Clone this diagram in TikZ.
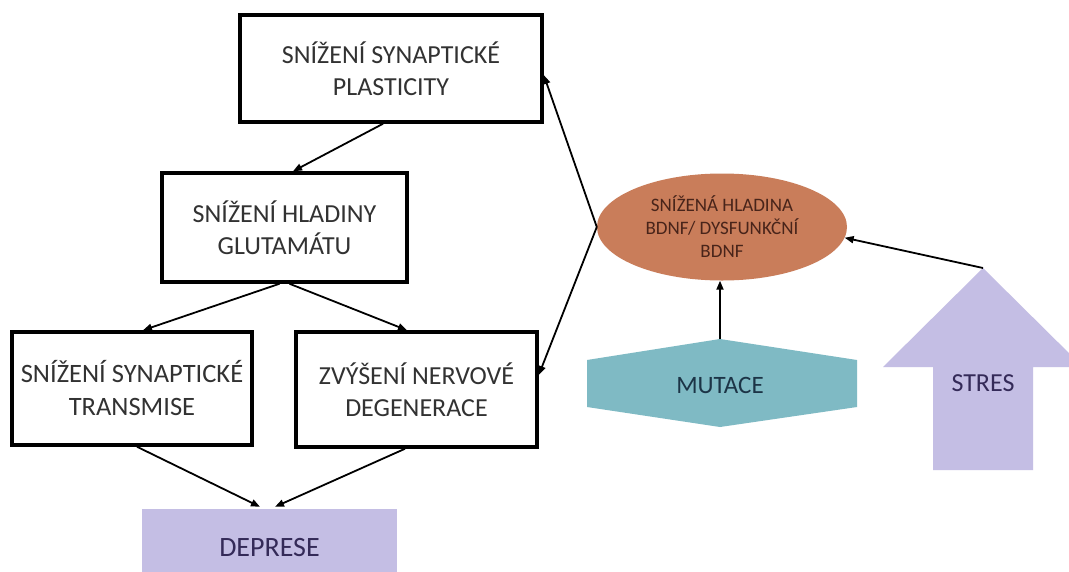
\documentclass[tikz,border=0pt]{standalone}
\usepackage{fontspec}
\setmainfont{Carlito}
\usetikzlibrary{arrows.meta,shapes.geometric,calc}
\definecolor{boxtext}{RGB}{50,50,50}
\definecolor{lav}{RGB}{196,190,228}
\definecolor{lavtext}{RGB}{52,42,88}
\definecolor{orangebrown}{RGB}{201,125,90}
\definecolor{ellitext}{RGB}{72,36,26}
\definecolor{teal}{RGB}{127,186,196}
\definecolor{tealtext}{RGB}{28,52,70}
\tikzset{
  boxnode/.style={draw=black,line width=3.5pt,fill=white,inner sep=0pt,align=center,
    text=boxtext,font=\fontsize{26}{32}\selectfont},
  conn/.style={line width=1.8pt,-{Triangle[length=9pt,width=7pt]}},
}
\begin{document}
\begin{tikzpicture}[x=1pt,y=-1pt]
\useasboundingbox (0,0) rectangle (1069,571);
\clip (0,0) rectangle (1069,571);
\fill[white] (0,0) rectangle (1069,571);
% boxes
\node[boxnode,minimum width=302pt,minimum height=107pt] (b1) at (391,68.5)
  {SNÍŽENÍ SYNAPTICKÉ\\PLASTICITY};
\node[boxnode,minimum width=245pt,minimum height=109pt] (b2) at (284.5,227.5)
  {SNÍŽENÍ HLADINY\\GLUTAMÁTU};
\node[boxnode,minimum width=240pt,minimum height=113pt,font=\fontsize{26.5}{33}\selectfont] (b3) at (132,388.5)
  {SNÍŽENÍ SYNAPTICKÉ\\TRANSMISE};
\node[boxnode,minimum width=241pt,minimum height=115pt] (b4) at (416.5,389.5)
  {ZVÝŠENÍ NERVOVÉ\\DEGENERACE};
\node[fill=lav,inner sep=0pt,minimum width=255pt,minimum height=78pt,text=lavtext,
  font=\fontsize{28}{33}\selectfont] (dep) at (269.5,548) {DEPRESE};
% ellipse
\node[ellipse,fill=orangebrown,inner sep=0pt,minimum width=250pt,minimum height=107pt,
  align=center,text=ellitext,font=\fontsize{19}{23}\selectfont] (e) at (722,227)
  {SNÍŽENÁ HLADINA\\BDNF/ DYSFUNKČNÍ\\BDNF};
% mutace hexagon
\fill[teal] (587,360) -- (720,339) -- (857,360) -- (857,407) -- (720,427) -- (587,407) -- cycle;
\coordinate (mtop) at (720,339);
\node[text=tealtext,font=\fontsize{25}{30}\selectfont] (m) at (720,385) {MUTACE};
% stres arrow
\fill[lav] (983,268) -- (1083,367) -- (1033,367) -- (1033,470) -- (933,470) -- (933,367) -- (883,367) -- cycle;
\coordinate (stip) at (983,268);
\node[text=lavtext,font=\fontsize{26}{31}\selectfont] (s) at (983,383) {STRES};
% connectors
\draw[conn] ([xshift=-8pt]b1.south) -- ([xshift=8.5pt]b2.north);
\draw[conn] ([xshift=-5pt]b2.south) -- ([xshift=11pt]b3.north);
\draw[conn] ([xshift=5pt]b2.south) -- ([xshift=-9.5pt]b4.north);
\draw[conn] ([xshift=5pt]b3.south) -- ([xshift=-9.5pt,yshift=2pt]dep.north);
\draw[conn] ([xshift=-11.5pt]b4.south) -- ([xshift=5.5pt,yshift=2pt]dep.north);
\draw[conn] (e.west) -- ([yshift=-6.5pt]b1.east);
\draw[conn] (e.west) -- ([yshift=14.5pt]b4.east);
\draw[conn] (mtop) -- (mtop |- e.south);
\draw[conn] (stip) -- (e.-5);
\end{tikzpicture}
\end{document}
